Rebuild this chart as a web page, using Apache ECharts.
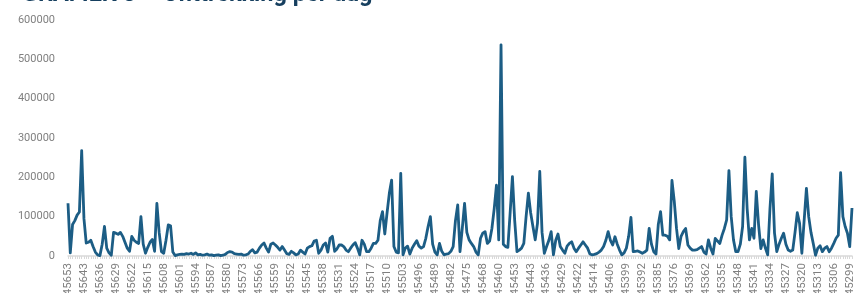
<!DOCTYPE html>
<html lang="nl">
<head>
<meta charset="utf-8">
<title>Onttrekking per dag</title>
<script src="https://cdn.jsdelivr.net/npm/echarts@6/dist/echarts.min.js"></script>
<style>
  html, body { margin: 0; padding: 0; background: #fff; }
  #main { width: 854px; height: 293px; }
</style>
</head>
<body>
<div id="main"></div>
<script>
  // tick labels (every 7th day on the axis), newest first
  var tickLabels = [
    '45653', '45643', '45636', '45629', '45622', '45615', '45608', '45601', '45594', '45587',
    '45580', '45573', '45566', '45559', '45552', '45545', '45538', '45531', '45524', '45517',
    '45510', '45503', '45496', '45489', '45482', '45475', '45468', '45460', '45453', '45443',
    '45436', '45429', '45422', '45414', '45406', '45399', '45392', '45385', '45376', '45369',
    '45362', '45355', '45348', '45341', '45334', '45327', '45320', '45313', '45306', '45299'
  ];
  var perTick = 7;

  // values per day
  var values = [
    134000, 8000, 80000, 90000, 104000, 112000, 268000, 95000, 33000, 35000,
    40000, 24000, 10000, 3000, 1000, 30000, 75000, 20000, 8000, 2000,
    60000, 58000, 55000, 60000, 50000, 35000, 20000, 12000, 50000, 40000,
    35000, 32000, 100000, 30000, 7000, 22000, 35000, 42000, 12000, 134000,
    60000, 11000, 7000, 40000, 79000, 77000, 10000, 1000, 3000, 4000,
    5000, 4000, 6000, 5000, 7000, 4000, 8000, 3000, 4000, 2000,
    3000, 5000, 2000, 3000, 1000, 2000, 3000, 1000, 2000, 4000,
    9000, 11000, 10000, 6000, 5000, 4000, 5000, 2000, 3000, 5000,
    12000, 16000, 8000, 10000, 20000, 28000, 33000, 20000, 10000, 30000,
    33000, 28000, 22000, 15000, 24000, 15000, 6000, 4000, 12000, 8000,
    3000, 5000, 15000, 10000, 5000, 20000, 24000, 26000, 38000, 40000,
    7000, 15000, 28000, 33000, 10000, 45000, 50000, 12000, 18000, 28000,
    28000, 24000, 15000, 11000, 20000, 28000, 34000, 20000, 3000, 40000,
    30000, 11000, 11000, 20000, 32000, 32000, 40000, 90000, 113000, 56000,
    110000, 160000, 193000, 24000, 10000, 8000, 210000, 3000, 20000, 25000,
    5000, 20000, 30000, 39000, 25000, 20000, 24000, 45000, 75000, 100000,
    30000, 10000, 3000, 32000, 12000, 3000, 5000, 6000, 12000, 24000,
    90000, 130000, 11000, 70000, 134000, 60000, 41000, 32000, 24000, 10000,
    3000, 45000, 58000, 62000, 32000, 38000, 70000, 120000, 180000, 41000,
    537000, 30000, 24000, 22000, 110000, 202000, 90000, 11000, 15000, 20000,
    32000, 100000, 160000, 110000, 75000, 41000, 83000, 215000, 60000, 7000,
    24000, 40000, 62000, 3000, 40000, 56000, 24000, 15000, 7000, 25000,
    32000, 36000, 20000, 11000, 20000, 28000, 36000, 28000, 20000, 5000,
    3000, 4000, 6000, 10000, 15000, 24000, 40000, 62000, 40000, 28000,
    49000, 30000, 15000, 3000, 8000, 20000, 50000, 98000, 11000, 12000,
    13000, 10000, 7000, 10000, 15000, 70000, 30000, 11000, 5000, 80000,
    113000, 53000, 53000, 50000, 41000, 192000, 140000, 70000, 19000, 50000,
    62000, 70000, 28000, 20000, 15000, 15000, 16000, 20000, 24000, 10000,
    5000, 41000, 20000, 5000, 45000, 38000, 32000, 53000, 70000, 92000,
    217000, 100000, 41000, 11000, 11000, 30000, 75000, 251000, 120000, 41000,
    70000, 45000, 164000, 80000, 19000, 41000, 20000, 3000, 120000, 209000,
    58000, 11000, 30000, 45000, 58000, 30000, 15000, 12000, 15000, 60000,
    110000, 83000, 7000, 90000, 172000, 100000, 60000, 32000, 2000, 20000,
    26000, 11000, 20000, 24000, 11000, 20000, 32000, 45000, 53000, 212000,
    100000, 75000, 58000, 24000, 122000
  ];

  var yTicks = [0, 100000, 200000, 300000, 400000, 500000, 600000];

  // one category per value, only every 7th carries a visible label
  var categories = values.map(function (v, i) {
    var t = tickLabels[Math.floor(i / perTick)];
    return i % perTick === 0 ? t : t + '_' + (i % perTick);
  });

  var myChart = echarts.init(document.getElementById('main'), null, { renderer: 'canvas' });
  myChart.setOption({
    animation: false,
    backgroundColor: '#ffffff',
    title: {
      text: 'GRAFIEK 3 \u2013 Onttrekking per dag',
      left: 17,
      top: -22,
      textStyle: {
        color: '#163f5f',
        fontFamily: 'Roboto, Arial, sans-serif',
        fontSize: 23.5,
        fontWeight: 'bold'
      }
    },
    grid: {
      left: 68,
      right: 2,
      top: 20,
      bottom: 37,
      containLabel: false,
      outerBoundsMode: 'none'
    },
    xAxis: {
      type: 'category',
      data: categories,
      boundaryGap: false,
      axisLine: { show: true, lineStyle: { color: '#d9d9d9', width: 1.5 } },
      axisTick: { show: true, interval: 0, length: 3, lineStyle: { color: '#d9d9d9' } },
      axisLabel: {
        interval: perTick - 1,
        rotate: 90,
        margin: 7,
        color: '#7f7f7f',
        fontSize: 11.5,
        fontFamily: 'Roboto, Arial, sans-serif'
      },
      splitLine: { show: false }
    },
    yAxis: {
      type: 'value',
      min: yTicks[0],
      max: yTicks[yTicks.length - 1],
      interval: yTicks[1] - yTicks[0],
      axisLine: { show: false },
      axisTick: { show: false },
      splitLine: { show: false },
      axisLabel: {
        margin: 13,
        color: '#808080',
        fontSize: 11,
        fontFamily: 'Roboto, Arial, sans-serif',
        formatter: function (v) { return String(v); }
      }
    },
    series: [
      {
        type: 'line',
        data: values,
        symbol: 'none',
        lineStyle: { color: '#1c5d85', width: 2.8, join: 'round' }
      }
    ]
  });
</script>
</body>
</html>
